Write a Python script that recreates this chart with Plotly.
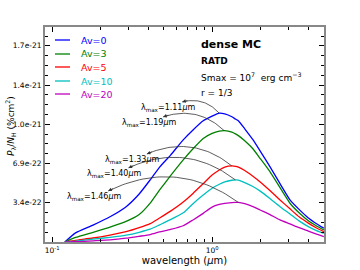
import numpy as np
import plotly.graph_objects as go

# ---------------- data (values in units of 1e-22 % cm^2) ----------------
SCALE = 1e-22
wavelength = [0.12, 0.14, 0.18, 0.23, 0.29, 0.35, 0.41, 0.47, 0.55, 0.66, 0.76, 0.88,
              1.0, 1.11, 1.2, 1.33, 1.4, 1.46, 1.6, 1.8, 2.0, 2.3, 2.66, 3.07, 3.5,
              4.0, 4.5, 5.0]
av0 = [0, 0.8, 1.48, 2.21, 3.09, 4.2, 5.43, 6.55, 7.6, 8.93, 9.8, 10.6,
       11.0, 11.26, 11.2, 10.95, 10.75, 10.6, 9.9, 8.95, 7.95, 6.59, 5.1, 3.68, 2.85,
       2.1, 1.6, 1.2]
av3 = [0, 0.4, 0.85, 1.3, 1.8, 2.4, 3.4, 4.55, 5.8, 7.18, 8.15, 9.05,
       9.5, 9.7, 9.74, 9.6, 9.45, 9.3, 8.85, 8.15, 7.3, 6.15, 4.75, 3.39, 2.55,
       1.85, 1.4, 1.05]
av5 = [0, 0.15, 0.35, 0.61, 0.9, 1.25, 1.6, 2.1, 2.7, 3.5, 4.25, 5.1,
       5.85, 6.3, 6.55, 6.65, 6.62, 6.55, 6.25, 5.75, 5.25, 4.5, 3.68, 2.9, 2.2,
       1.65, 1.22, 0.9]
av10 = [0, 0.08, 0.25, 0.41, 0.6, 0.85, 1.12, 1.5, 1.95, 2.55, 3.35, 4.1,
        4.7, 5.05, 5.25, 5.4, 5.43, 5.42, 5.2, 4.85, 4.45, 3.8, 3.09, 2.45, 1.85,
        1.35, 1.0, 0.76]
av20 = [0, 0.02, 0.1, 0.18, 0.33, 0.5, 0.65, 0.88, 1.1, 1.42, 1.93, 2.5,
        3.05, 3.28, 3.38, 3.44, 3.46, 3.46, 3.35, 3.1, 2.8, 2.4, 1.93, 1.58, 1.25,
        0.95, 0.68, 0.46]
series_names = ["Av=0", "Av=3", "Av=5", "Av=10", "Av=20"]
series_values = [av0, av3, av5, av10, av20]
series_colors = ["#0000ff", "#008000", "#ff0000", "#00bfbf", "#bf00bf"]

lambda_max = [1.11, 1.19, 1.33, 1.40, 1.46]
lambda_max_labels = ["1.11", "1.19", "1.33", "1.40", "1.46"]
# arrow-head positions of the peak annotations (wavelength, value 1e-22)
label_head_x = [0.65, 0.494, 0.391, 0.30, 0.224]
label_head_y = [12.25, 10.94, 7.7, 6.48, 4.46]

ytick_vals = [3.43, 6.86, 10.29, 13.72, 17.15]
ytick_text = ["3.4e-22", "6.9e-22", "1.0e-21", "1.4e-21", "1.7e-21"]

# ---------------- layout geometry ----------------
W, H = 360, 270
ML, MR, MT, MB = 45, 36, 27, 28
PW, PH = W - ML - MR, H - MT - MB
XR = [-1.045, 0.70]
YR = [0.0, 18.8]


def px(lam):
    return ML + (np.log10(lam) - XR[0]) / (XR[1] - XR[0]) * PW


def py(v):
    return MT + (YR[1] - v) / (YR[1] - YR[0]) * PH


def inv_px(x):
    return 10 ** (XR[0] + (x - ML) / PW * (XR[1] - XR[0]))


def inv_py(y):
    return YR[1] - (y - MT) / PH * (YR[1] - YR[0])


def paper_x(screen_x):
    return (screen_x - ML) / PW


def paper_y(screen_y):
    return 1 - (screen_y - MT) / PH


fig = go.Figure()
for name, vals, col in zip(series_names, series_values, series_colors):
    fig.add_trace(go.Scatter(x=wavelength, y=[v * SCALE for v in vals], mode="lines",
                             line=dict(color=col, width=1.3, shape="spline", smoothing=0.5),
                             name=name, showlegend=False, hoverinfo="skip"))

annotations = []
# curved arrows from each curve's peak to its label
for vals, lm, lab, hx, hy in zip(series_values, lambda_max, lambda_max_labels,
                                 label_head_x, label_head_y):
    pk = max(vals)
    p0 = np.array([px(lm), py(pk)])
    p2 = np.array([px(hx), py(hy)])
    d = p2 - p0
    n = np.array([-d[1], d[0]])
    p1 = (p0 + p2) / 2 + 0.3 * n
    t = np.linspace(0, 1, 40)
    pts = ((1 - t)[:, None] ** 2) * p0 + (2 * (1 - t) * t)[:, None] * p1 + (t[:, None] ** 2) * p2
    fig.add_trace(go.Scatter(x=[inv_px(p[0]) for p in pts], y=[inv_py(p[1]) * SCALE for p in pts],
                             mode="lines", line=dict(color="#333333", width=0.8),
                             showlegend=False, hoverinfo="skip"))
    tang = p1 - p2
    tang = tang / np.linalg.norm(tang) * 7
    annotations.append(dict(x=np.log10(hx), y=hy * SCALE, xref="x", yref="y",
                            ax=float(tang[0]), ay=float(tang[1]), text="", showarrow=True,
                            arrowhead=2, arrowsize=0.9, arrowwidth=0.8, arrowcolor="#333333"))
    annotations.append(dict(x=np.log10(hx), y=hy * SCALE, xref="x", yref="y",
                            xshift=-14, yshift=-6, text="λ<sub>max</sub>=" + lab + "<i>μ</i>m",
                            showarrow=False, xanchor="center", yanchor="middle",
                            font=dict(size=8, color="black")))

# manual legend
legend_y = [40, 54, 67, 81, 94]
shapes = []
for name, col, ly in zip(series_names, series_colors, legend_y):
    yp = paper_y(ly)
    shapes.append(dict(type="line", xref="paper", yref="paper",
                       x0=paper_x(55), x1=paper_x(70), y0=yp, y1=yp,
                       line=dict(color=col, width=1.3)))
    annotations.append(dict(x=paper_x(79), y=yp, xref="paper", yref="paper",
                            text=name, showarrow=False, xanchor="left", yanchor="middle",
                            font=dict(size=9.5, color=col)))

# text block
for txt, ty, size in [("<b>dense MC</b>", 44, 11), ("<b>RATD</b>", 61, 9),
                      ("Smax = 10<sup>7</sup>  erg cm<sup>−3</sup>", 77, 9),
                      ("r = 1/3", 93, 9)]:
    annotations.append(dict(x=paper_x(199), y=paper_y(ty), xref="paper", yref="paper",
                            text=txt, showarrow=False, xanchor="left", yanchor="middle",
                            font=dict(size=size, color="black")))

# y-axis title
annotations.append(dict(x=paper_x(10), y=paper_y(126), xref="paper", yref="paper",
                        text="<i>P</i><sub>λ</sub>/<i>N</i><sub>H</sub> (%cm<sup>2</sup>)",
                        textangle=-90, showarrow=False, xanchor="center", yanchor="middle",
                        font=dict(size=9, color="black")))

x_minor = [0.2, 0.3, 0.4, 0.5, 0.6, 0.7, 0.8, 0.9, 2, 3, 4, 5]
y_minor = [k * 0.8575 for k in range(1, 22)]

axis_common = dict(showline=True, linecolor="#888888", linewidth=2, mirror="allticks",
                   ticks="inside", tickcolor="black", ticklen=5, tickwidth=1.3,
                   showgrid=False, zeroline=False, automargin=False,
                   tickfont=dict(size=7.5, color="black"))

fig.update_layout(
    width=W, height=H, margin=dict(l=ML, r=MR, t=MT, b=MB, autoexpand=False),
    paper_bgcolor="white", plot_bgcolor="white",
    font=dict(family="DejaVu Sans", color="black"),
    showlegend=False,
    xaxis=dict(type="log", range=XR, tickvals=[0.1, 1],
               ticktext=["10<sup>-1</sup>", "10<sup>0</sup>"],
               minor=dict(tickvals=x_minor, ticks="inside", ticklen=3, tickcolor="black", tickwidth=0.8),
               title=dict(text="wavelength (<i>μ</i>m)", font=dict(size=10), standoff=2),
               **axis_common),
    yaxis=dict(range=[YR[0] * SCALE, YR[1] * SCALE], tickvals=[v * SCALE for v in ytick_vals],
               ticktext=ytick_text,
               minor=dict(tickvals=[v * SCALE for v in y_minor], ticks="inside", ticklen=3,
                          tickcolor="black", tickwidth=0.8),
               **axis_common),
    annotations=annotations, shapes=shapes,
)

fig.write_html("out.html", config={"displayModeBar": False},
               post_script="document.body.style.margin='0';")
